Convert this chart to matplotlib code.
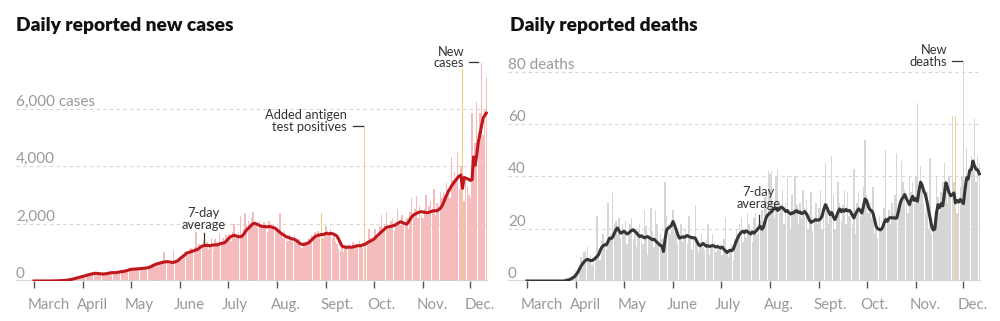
import matplotlib
matplotlib.use('Agg')
import matplotlib.pyplot as plt
import matplotlib.dates as mdates
import matplotlib.transforms as mtransforms
import pandas as pd

plt.rcParams['font.family'] = ['Lato', 'DejaVu Sans']

# giorni dal 1 marzo all'11 dicembre 2020
days = pd.date_range('2020-03-01', '2020-12-11', freq='D')
month_labels = ['March', 'April', 'May', 'June', 'July', 'Aug.', 'Sept.', 'Oct.', 'Nov.', 'Dec.']

# nuovi casi giornalieri (barre), mese per mese
cases_mar = [0, 0, 0, 0, 0, 0, 0, 0, 0, 2, 1, 3, 5, 4, 8, 6, 12, 10, 18, 25, 22, 35, 45, 52, 70, 80, 95, 110, 118, 140, 160]
cases_apr = [190, 170, 210, 240, 200, 260, 280, 300, 250, 240, 230, 260, 220, 250, 280, 300, 290, 250, 310, 280,
             320, 300, 330, 290, 360, 340, 320, 380, 400, 420]
cases_may = [380, 450, 420, 380, 430, 470, 410, 460, 420, 500, 480, 440, 520, 560, 600, 540, 630, 580, 650, 610,
             700, 1000, 620, 720, 600, 640, 690, 1050, 760, 740, 800]
cases_jun = [740, 880, 950, 1000, 1050, 900, 1100, 1150, 1000, 1200, 1720, 1050, 1300, 1250, 1180, 1400, 1300, 1350,
             1100, 1250, 1500, 1200, 1450, 1350, 1250, 1650, 1300, 1500, 1400, 1600]
cases_jul = [1500, 1650, 1400, 1700, 2000, 1500, 1600, 1700, 2250, 1600, 1800, 2350, 1950, 2100, 1900, 2200, 2400,
             2100, 2000, 1850, 2100, 1950, 1800, 2050, 2000, 1700, 2100, 1950, 1800, 2000, 1900]
cases_aug = [1800, 1700, 2350, 1650, 1500, 1750, 1600, 1400, 1650, 1500, 1350, 1600, 1400, 1300, 1450, 1200, 1150,
             1350, 1400, 1250, 1500, 1450, 1600, 1550, 1700, 1500, 1750, 1650, 2350, 1500, 1700]
cases_sep = [1900, 1750, 1600, 1800, 1500, 1650, 1400, 1300, 1100, 1050, 1200, 1000, 1250, 1150, 1300, 1100, 1200,
             1350, 1250, 1300, 1200, 1400, 1300, 1150, 5400, 1250, 1400, 1800, 1500, 1450]
cases_oct = [1450, 1800, 1600, 1500, 1900, 2300, 1700, 2000, 2400, 1800, 1900, 2100, 2200, 1750, 2000, 2500, 2100,
             1950, 2300, 1900, 2000, 2200, 1800, 2400, 2900, 2300, 2500, 2950, 2200, 2600, 2300]
cases_nov = [2200, 2500, 3000, 2300, 2600, 2800, 2500, 3200, 2300, 2700, 2600, 3100, 2900, 3100, 3000, 3400, 3200,
             2900, 4300, 3500, 3800, 3600, 4500, 3200, 4000, 7400, 2800, 3500, 3300, 3000]
cases_dec = [2900, 5830, 4300, 4800, 6240, 5200, 5830, 7600, 5080, 6000, 7050]

# media mobile a 7 giorni dei casi
avg_mar = [0, 0, 0, 0, 0, 0, 0, 0, 0, 1, 2, 3, 4, 5, 6, 8, 10, 12, 15, 20, 25, 32, 40, 50, 60, 75, 90, 105, 120, 135, 150]
avg_apr = [165, 180, 195, 210, 225, 240, 255, 265, 268, 262, 255, 248, 243, 245, 250, 258, 270, 282, 290, 292,
           290, 295, 305, 318, 325, 330, 340, 355, 370, 390]
avg_may = [405, 410, 415, 418, 420, 425, 430, 435, 440, 448, 455, 465, 485, 510, 540, 565, 590, 605, 620, 635,
           648, 660, 668, 672, 665, 655, 648, 650, 665, 690, 720]
avg_jun = [780, 823, 860, 900, 962, 985, 1000, 1020, 1040, 1060, 1080, 1100, 1140, 1180, 1215, 1230, 1235, 1240,
           1232, 1225, 1245, 1250, 1260, 1250, 1270, 1290, 1310, 1315, 1330, 1380]
avg_jul = [1440, 1500, 1540, 1570, 1590, 1575, 1555, 1540, 1540, 1560, 1620, 1700, 1780, 1830, 1880, 1950, 1990,
           2005, 1990, 1960, 1935, 1910, 1900, 1895, 1890, 1880, 1900, 1890, 1870, 1855, 1830]
avg_aug = [1790, 1740, 1690, 1650, 1610, 1575, 1540, 1520, 1500, 1480, 1460, 1450, 1420, 1380, 1330, 1290, 1275,
           1270, 1285, 1305, 1330, 1380, 1430, 1490, 1540, 1570, 1590, 1600, 1620, 1610, 1630]
avg_sep = [1660, 1650, 1640, 1660, 1650, 1620, 1600, 1550, 1450, 1330, 1220, 1190, 1180, 1170, 1175, 1180, 1170,
           1185, 1200, 1215, 1230, 1225, 1230, 1250, 1270, 1290, 1330, 1360, 1390, 1420]
avg_oct = [1450, 1500, 1560, 1610, 1660, 1710, 1760, 1810, 1865, 1880, 1890, 1900, 1920, 1935, 1960, 2000, 2030,
           2060, 2040, 2010, 1990, 1980, 2050, 2150, 2230, 2295, 2320, 2350, 2380, 2400, 2410]
avg_nov = [2400, 2390, 2380, 2375, 2390, 2410, 2430, 2445, 2440, 2450, 2480, 2527, 2600, 2720, 2860, 2990, 3100,
           3200, 3300, 3380, 3455, 3520, 3600, 3650, 3690, 3220, 3600, 3580, 3560, 3530]
avg_dec = [3500, 3520, 4320, 4030, 4400, 4850, 5100, 5400, 5670, 5760, 5840]

# morti giornaliere (barre)
deaths_mar = [0] * 24 + [0, 1, 0, 1, 2, 1, 3]
deaths_apr = [4, 3, 6, 9, 5, 11, 12, 13, 8, 10, 6, 7, 9, 25, 10, 8, 15, 18, 14, 12, 30, 16, 18, 34, 22, 23, 18, 24, 16, 22]
deaths_may = [20, 23, 14, 18, 22, 24, 16, 20, 13, 19, 22, 18, 14, 27, 21, 10, 16, 28, 19, 13, 27, 22, 14, 18, 16, 12,
              38, 25, 22, 18, 20]
deaths_jun = [27, 18, 20, 14, 17, 22, 15, 18, 20, 14, 25, 17, 12, 16, 29, 14, 11, 15, 18, 13, 12, 16, 22, 10, 13, 18,
              15, 11, 14, 12]
deaths_jul = [14, 10, 16, 24, 12, 9, 11, 14, 8, 16, 20, 18, 22, 24, 15, 19, 17, 26, 22, 20, 15, 24, 26, 18, 22, 23,
              27, 20, 32, 33, 42]
deaths_aug = [41, 42, 30, 24, 40, 43, 26, 28, 35, 22, 30, 40, 25, 20, 33, 27, 40, 29, 22, 30, 24, 35, 28, 31, 20, 26,
              34, 19, 24, 30, 22]
deaths_sep = [28, 35, 20, 26, 45, 30, 22, 27, 48, 33, 20, 24, 38, 30, 23, 29, 35, 22, 34, 25, 28, 22, 43, 18, 30, 34,
              25, 27, 36, 54]
deaths_oct = [33, 26, 30, 24, 36, 18, 22, 16, 25, 20, 19, 28, 50, 24, 27, 22, 30, 26, 33, 49, 25, 28, 46, 38, 35, 30,
              26, 40, 34, 38, 30]
deaths_nov = [40, 68, 36, 44, 38, 30, 26, 34, 20, 47, 18, 22, 24, 40, 32, 26, 34, 38, 45, 36, 30, 40, 32, 63, 38, 63,
              26, 30, 36, 40]
deaths_dec = [84, 34, 51, 40, 44, 48, 42, 62, 38, 48, 45]

# media mobile a 7 giorni delle morti
davg_mar = [0] * 24 + [0.1, 0.3, 0.4, 0.6, 0.9, 1.3, 1.7]
davg_apr = [2.4, 3.3, 4.5, 5.6, 6.6, 7.4, 7.9, 8.3, 8.1, 7.8, 7.8, 8.2, 8.7, 9.3, 10.0, 11.5, 12.8, 13.5, 13.9, 13.8,
            15.0, 16.4, 16.2, 16.8, 18.2, 19.6, 20.3, 19.2, 18.3, 18.6]
davg_may = [19.0, 18.6, 18.0, 18.3, 18.9, 19.4, 19.6, 19.0, 18.4, 17.6, 17.0, 17.3, 16.9, 16.5, 16.8, 17.0, 16.6, 16.2,
            15.8, 16.0, 15.4, 14.8, 14.2, 13.6, 13.4, 11.3, 16.0, 19.6, 20.3, 20.6, 21.3]
davg_jun = [22.8, 21.4, 19.6, 17.8, 16.4, 16.6, 16.9, 16.7, 17.0, 17.4, 17.0, 16.8, 16.5, 16.6, 16.4, 15.2, 14.0, 13.5,
            13.8, 14.4, 13.8, 13.3, 13.5, 13.2, 13.4, 13.6, 13.3, 13.0, 13.2, 12.9]
davg_jul = [12.6, 13.0, 12.2, 11.6, 10.9, 11.4, 11.8, 11.6, 12.2, 13.8, 15.4, 16.8, 17.9, 18.6, 19.0, 18.5, 19.2, 18.9,
            18.4, 18.0, 18.8, 18.3, 18.9, 19.6, 20.4, 20.9, 19.8, 20.6, 22.8, 24.7, 25.4]
davg_aug = [26.0, 26.5, 27.2, 27.9, 27.7, 27.0, 27.6, 28.3, 28.0, 27.4, 26.6, 27.0, 26.2, 25.6, 26.1, 26.0, 26.7, 26.9,
            26.2, 26.4, 25.8, 26.0, 26.6, 25.8, 24.6, 23.2, 22.4, 22.8, 23.1, 23.5, 23.2]
davg_sep = [23.4, 23.8, 25.0, 27.4, 29.2, 28.1, 26.6, 25.4, 26.2, 24.6, 23.5, 24.8, 26.4, 27.6, 26.5, 27.3, 26.7, 27.4,
            26.8, 27.0, 26.4, 25.2, 24.1, 25.6, 26.8, 27.6, 26.9, 26.0, 28.6, 31.4]
davg_oct = [30.8, 28.6, 27.3, 27.0, 26.0, 23.6, 20.9, 20.0, 19.7, 19.6, 20.4, 22.2, 23.5, 22.8, 24.0, 24.3, 24.1, 24.2,
            24.0, 24.1, 26.5, 29.4, 31.2, 32.0, 33.1, 31.6, 30.4, 29.2, 31.0, 32.4, 30.8]
davg_nov = [31.5, 30.5, 34.6, 37.8, 36.6, 34.4, 33.1, 30.5, 27.2, 24.1, 21.0, 19.5, 19.9, 26.0, 29.2, 28.1, 29.6, 28.8,
            33.4, 37.6, 35.8, 33.7, 32.6, 33.0, 33.7, 29.9, 30.8, 30.2, 31.2, 30.4]
davg_dec = [29.6, 35.0, 39.5, 39.0, 42.4, 42.6, 45.9, 44.0, 42.7, 42.5, 41.0]

cases_daily = cases_mar + cases_apr + cases_may + cases_jun + cases_jul + cases_aug + cases_sep + cases_oct + cases_nov + cases_dec
cases_avg = avg_mar + avg_apr + avg_may + avg_jun + avg_jul + avg_aug + avg_sep + avg_oct + avg_nov + avg_dec
deaths_daily = deaths_mar + deaths_apr + deaths_may + deaths_jun + deaths_jul + deaths_aug + deaths_sep + deaths_oct + deaths_nov + deaths_dec
deaths_avg = davg_mar + davg_apr + davg_may + davg_jun + davg_jul + davg_aug + davg_sep + davg_oct + davg_nov + davg_dec

# giorni evidenziati in arancione
cases_flagged = ['2020-08-29', '2020-09-25', '2020-11-26']
deaths_flagged = ['2020-11-26']

fig = plt.figure(figsize=(10, 3.21), dpi=100)
W, H = 1000, 321
PX_DAY = 1.587
TXT = '#333333'
GREY = '#999999'


def make_panel(x0, x1, mar_px, ytop, daily, avg, flagged, bar_col, line_col, ticks, tick_labels):
    ax = fig.add_axes([x0 / W, (H - 281) / H, (x1 - x0) / W, 230 / H])
    start = mdates.date2num(pd.Timestamp('2020-03-01'))
    left = start - (mar_px - x0) / PX_DAY
    ax.set_xlim(left, left + (x1 - x0) / PX_DAY)
    ax.set_ylim(0, ytop)
    x = mdates.date2num(days)
    flag = set(mdates.date2num(pd.to_datetime(flagged)))
    cols = ['#f7cd86' if xi in flag else bar_col for xi in x]
    widths = [0.55 if xi in flag else 0.9 for xi in x]
    ax.bar(x, daily, width=widths, color=cols, linewidth=0, zorder=2)
    ax.plot(x, avg, color=line_col, lw=2.2, zorder=4, solid_joinstyle='round')
    for t in ticks[1:]:
        ax.axhline(t, color='#d6d6d6', lw=0.8, ls=(0, (3, 3)), zorder=1)
    ax.axhline(0, color='#d0d0d0', lw=1.2, zorder=3)
    for t, lab in zip(ticks, tick_labels):
        ax.text(0, t, lab, transform=mtransforms.blended_transform_factory(ax.transAxes, ax.transData),
                ha='left', va='bottom', fontsize=11, color=GREY)
    for s in ax.spines.values():
        s.set_visible(False)
    ax.set_yticks([])
    ax.xaxis.set_major_locator(mdates.MonthLocator())
    ax.set_xticks(ax.get_xticks()[:10])
    ax.set_xticklabels(month_labels)
    ax.tick_params(axis='x', length=5, width=1, color='#555555', pad=7, labelsize=10.8, labelcolor=GREY)
    off = mtransforms.ScaledTranslation(-6 / 100, 0, fig.dpi_scale_trans)
    for lab in ax.get_xticklabels():
        lab.set_ha('left')
        lab.set_transform(lab.get_transform() + off)
    return ax


ax1 = make_panel(16, 488, 34, 8000, cases_daily, cases_avg, cases_flagged, '#f4bcbc', '#c0161c',
                 [0, 2000, 4000, 6000], ['0', '2,000', '4,000', '6,000 cases'])
ax2 = make_panel(508, 981, 527, 88, deaths_daily, deaths_avg, deaths_flagged, '#d6d6d6', '#363636',
                 [0, 20, 40, 60, 80], ['0', '20', '40', '60', '80 deaths'])

fig.text(16 / W, 1 - 25 / H, 'Daily reported new cases', fontsize=13.8, fontweight='heavy', va='center', color='#111111')
fig.text(510 / W, 1 - 25 / H, 'Daily reported deaths', fontsize=13.8, fontweight='heavy', va='center', color='#111111')


def d(s):
    return mdates.date2num(pd.Timestamp(s))


# annotazioni casi
ax1.text(d('2020-06-16'), 1750, '7-day\naverage', ha='center', va='bottom', fontsize=9.3, color=TXT, linespacing=0.95)
ax1.plot([d('2020-06-16')] * 2, [1270, 1660], color=TXT, lw=0.9, zorder=5)
ax1.text(d('2020-09-14'), 5150, 'Added antigen\ntest positives', ha='right', va='bottom', fontsize=9.3, color=TXT,
         linespacing=0.95, multialignment='right')
ax1.plot([d('2020-09-18'), d('2020-09-24')], [5390, 5390], color=TXT, lw=0.9)
ax1.text(d('2020-11-27'), 7370, 'New\ncases', ha='right', va='bottom', fontsize=9.3, color=TXT,
         linespacing=0.95, multialignment='right')
ax1.plot([d('2020-11-30'), d('2020-12-06')], [7620, 7620], color=TXT, lw=0.9)

# annotazioni morti
ax2.text(d('2020-07-25'), 27.3, '7-day\naverage', ha='center', va='bottom', fontsize=9.3, color=TXT, linespacing=0.95)
ax2.plot([d('2020-07-25')] * 2, [20.4, 25.4], color=TXT, lw=0.9, zorder=5)
ax2.text(d('2020-11-21'), 81.5, 'New\ndeaths', ha='right', va='bottom', fontsize=9.3, color=TXT,
         linespacing=0.95, multialignment='right')
ax2.plot([d('2020-11-24'), d('2020-11-30')], [84.2, 84.2], color=TXT, lw=0.9)

fig.savefig('out.png', dpi=100)
